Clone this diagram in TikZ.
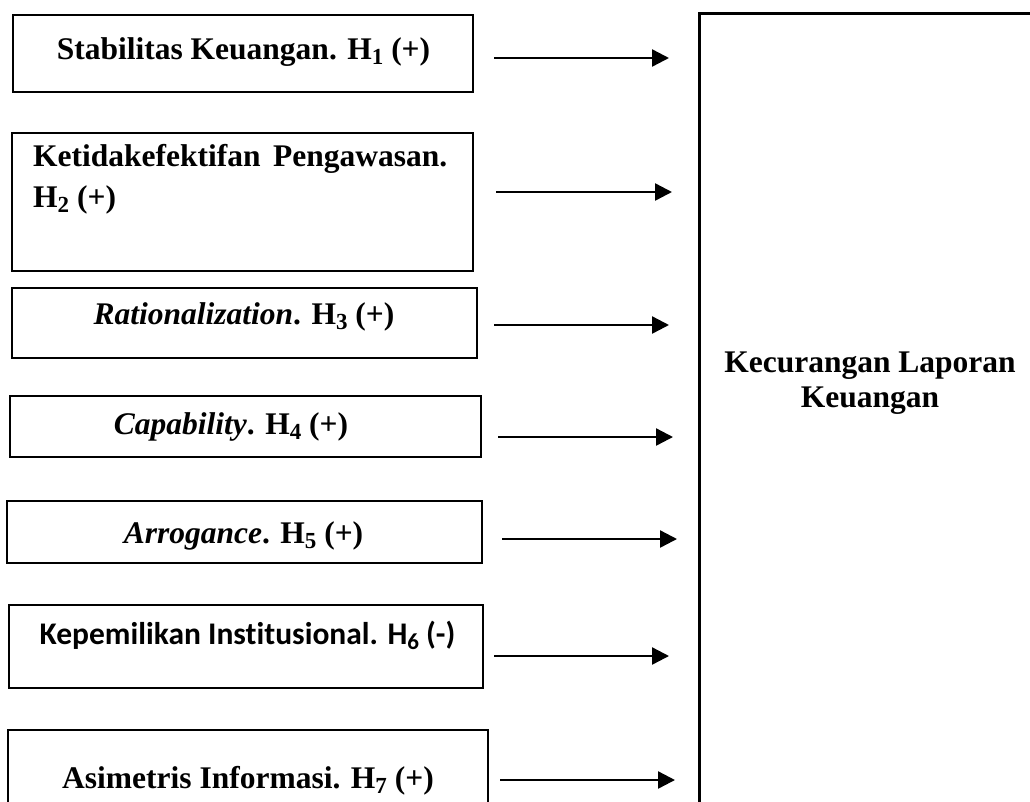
\documentclass[tikz,border=0pt]{standalone}
\usepackage{fontspec}
\setmainfont{Liberation Serif}
\newfontfamily\calfont[Ligatures=NoCommon]{Carlito}
\usetikzlibrary{arrows.meta,positioning,calc}
\newcommand{\Hsub}[1]{H\raisebox{-0.16em}{\fontsize{23}{23}\selectfont #1}}

\begin{document}
\begin{tikzpicture}[x=1pt, y=-1pt,
  varbox/.style={draw, line width=2.4pt, inner sep=0pt},
  vartext/.style={font=\bfseries\fontsize{31.5}{41}\selectfont, inner sep=0pt},
  flow/.style={line width=2.4pt, -{Triangle[length=17pt,width=17pt]}}]
\clip (0,0) rectangle (1030,801);

% Draw the variable boxes (left column)
\foreach \i/\bx/\by/\bw/\bh/\tx/\ty/\txt in {
  1/243/53.5/460/77/243.5/52/{Stabilitas Keuangan. \Hsub{1} (+)},
  3/244.5/323/465/70/244/317/{\textit{Rationalization}. \Hsub{3} (+)},
  4/245.5/426.5/471/61/231/426.5/{\textit{Capability}. \Hsub{4} (+)},
  5/244.5/532/475/62/243.5/535.5/{\textit{Arrogance}. \Hsub{5} (+)},
  6/246/646.5/474/83/247.5/635.5/{\calfont Kepemilikan Institusional. \Hsub{6} (-)},
  7/248/780/480/100/248/781/{Asimetris Informasi. \Hsub{7} (+)}} {
    \node[varbox, minimum width=\bw pt, minimum height=\bh pt] (b\i) at (\bx,\by) {};
    \node[vartext] (t\i) at (\tx,\ty) {\txt};
}

% Second box has two lines of text
\node[varbox, minimum width=461pt, minimum height=138pt] (b2) at (242.5,202) {};
\node[vartext, align=left, anchor=north west] (t2) at (33,144)
  {\makebox[414pt][s]{Ketidakefektifan Pengawasan.}\\\Hsub{2} (+)};

% Dependent variable box (runs off the page)
\node[varbox, line width=2.6pt, minimum width=350pt, minimum height=840pt, anchor=north west] (kecbox) at (698,12) {};
\node[vartext, align=center, font=\bfseries\fontsize{31.5}{35}\selectfont] (kec) at (870,383)
  {Kecurangan Laporan\\Keuangan};

% Arrows
\foreach \i/\gx/\dy/\sh in {1/20/4.5/29, 2/22/-10/26, 3/16/2/29, 4/16/10.5/25, 5/19/7/21, 6/10/9.5/29, 7/11/0/23}
  \draw[flow, shorten >=\sh pt] ($(b\i.east)+(\gx,\dy)$) coordinate (s\i) -- (s\i -| kecbox.west);

\end{tikzpicture}
\end{document}
